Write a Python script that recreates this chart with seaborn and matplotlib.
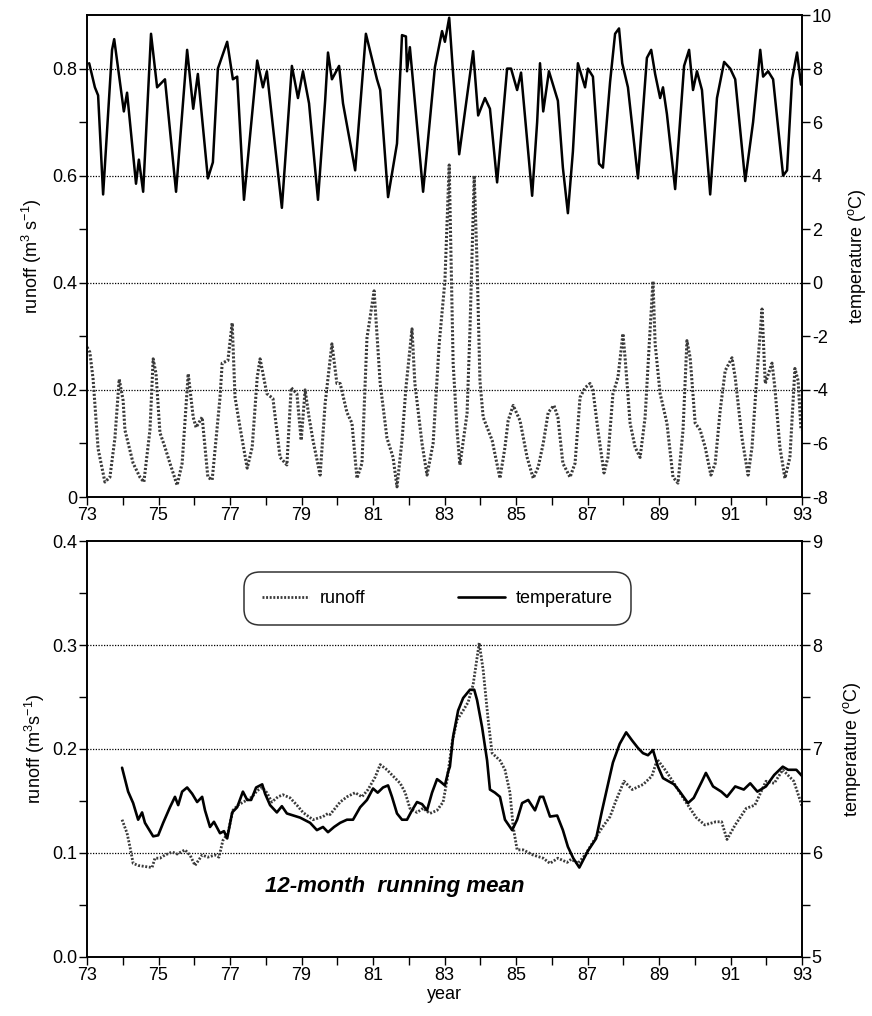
import pandas as pd
import matplotlib
matplotlib.use('Agg')
import matplotlib.pyplot as plt
import seaborn as sns

# ---------------- data ----------------
# upper panel: monthly runoff (m3/s) and air temperature (C)
top_runoff_year = [73.00, 73.08, 73.17, 73.31, 73.50, 73.64, 73.78, 73.90, 74.01, 74.06, 74.29, 74.48,
                   74.59, 74.76, 74.85, 74.93, 75.04, 75.18, 75.32, 75.52, 75.66, 75.83, 75.97, 76.05,
                   76.22, 76.38, 76.50, 76.72, 76.78, 76.94, 77.06, 77.14, 77.28, 77.48, 77.62, 77.76,
                   77.84, 78.03, 78.20, 78.40, 78.59, 78.71, 78.87, 78.99, 79.10, 79.21, 79.32, 79.52,
                   79.66, 79.85, 79.99, 80.08, 80.27, 80.41, 80.55, 80.69, 80.83, 81.03, 81.20, 81.39,
                   81.56, 81.67, 81.81, 81.92, 82.09, 82.17, 82.37, 82.51, 82.68, 82.85, 83.01, 83.13,
                   83.24, 83.35, 83.43, 83.63, 83.71, 83.83, 83.91, 83.99, 84.08, 84.33, 84.55, 84.69,
                   84.78, 84.92, 85.11, 85.31, 85.48, 85.62, 85.76, 85.90, 86.06, 86.17, 86.31, 86.51,
                   86.65, 86.79, 86.93, 87.07, 87.15, 87.29, 87.46, 87.57, 87.71, 87.85, 87.99, 88.05,
                   88.19, 88.33, 88.47, 88.61, 88.72, 88.83, 88.89, 89.03, 89.22, 89.39, 89.53, 89.67,
                   89.78, 89.87, 90.01, 90.15, 90.29, 90.45, 90.57, 90.71, 90.85, 91.04, 91.13, 91.32,
                   91.49, 91.60, 91.74, 91.88, 91.97, 92.16, 92.24, 92.38, 92.52, 92.66, 92.80, 92.89,
                   92.97]
top_runoff = [0.280, 0.270, 0.220, 0.090, 0.028, 0.037, 0.110, 0.220, 0.180, 0.125, 0.063, 0.037,
              0.028, 0.125, 0.258, 0.230, 0.120, 0.093, 0.063, 0.022, 0.063, 0.230, 0.149, 0.130,
              0.149, 0.037, 0.032, 0.186, 0.250, 0.255, 0.325, 0.186, 0.130, 0.054, 0.093, 0.223,
              0.258, 0.193, 0.184, 0.074, 0.060, 0.204, 0.193, 0.106, 0.200, 0.149, 0.106, 0.041,
              0.175, 0.286, 0.212, 0.212, 0.158, 0.138, 0.035, 0.063, 0.297, 0.385, 0.212, 0.110,
              0.074, 0.019, 0.106, 0.204, 0.314, 0.212, 0.100, 0.041, 0.100, 0.286, 0.403, 0.620,
              0.250, 0.125, 0.060, 0.156, 0.310, 0.600, 0.435, 0.217, 0.149, 0.106, 0.035, 0.093,
              0.143, 0.171, 0.143, 0.074, 0.035, 0.056, 0.100, 0.158, 0.171, 0.149, 0.063, 0.037,
              0.063, 0.186, 0.204, 0.212, 0.200, 0.125, 0.045, 0.074, 0.193, 0.223, 0.305, 0.260,
              0.138, 0.093, 0.074, 0.149, 0.279, 0.403, 0.286, 0.193, 0.138, 0.037, 0.026, 0.125,
              0.292, 0.260, 0.138, 0.125, 0.093, 0.041, 0.063, 0.162, 0.236, 0.260, 0.223, 0.110,
              0.041, 0.093, 0.230, 0.351, 0.212, 0.250, 0.204, 0.093, 0.035, 0.074, 0.240, 0.217,
              0.125]

top_temp_year = [73.06, 73.22, 73.31, 73.45, 73.70, 73.76, 74.03, 74.12, 74.37, 74.45, 74.57, 74.79,
                 74.96, 75.18, 75.49, 75.80, 75.97, 76.10, 76.38, 76.52, 76.66, 76.92, 77.08, 77.20,
                 77.39, 77.76, 77.92, 78.03, 78.45, 78.73, 78.90, 79.04, 79.21, 79.46, 79.66, 79.74,
                 79.85, 80.05, 80.16, 80.50, 80.80, 81.11, 81.20, 81.42, 81.67, 81.81, 81.92, 81.95,
                 82.03, 82.40, 82.73, 82.93, 83.01, 83.13, 83.24, 83.41, 83.80, 83.94, 84.13, 84.27,
                 84.47, 84.75, 84.86, 85.03, 85.14, 85.45, 85.59, 85.67, 85.76, 85.92, 86.17, 86.31,
                 86.45, 86.59, 86.73, 86.93, 87.01, 87.15, 87.32, 87.43, 87.63, 87.77, 87.88, 87.97,
                 88.13, 88.41, 88.66, 88.78, 88.89, 89.03, 89.11, 89.22, 89.45, 89.70, 89.84, 89.95,
                 90.06, 90.20, 90.43, 90.62, 90.82, 90.99, 91.13, 91.41, 91.63, 91.83, 91.91, 92.05,
                 92.19, 92.47, 92.58, 92.72, 92.86, 92.97]
top_temp = [8.2, 7.3, 7.0, 3.3, 8.7, 9.1, 6.4, 7.1, 3.7, 4.6, 3.4, 9.3,
            7.3, 7.6, 3.4, 8.7, 6.5, 7.8, 3.9, 4.5, 8.0, 9.0, 7.6, 7.7,
            3.1, 8.3, 7.3, 7.9, 2.8, 8.1, 6.9, 7.9, 6.7, 3.1, 6.8, 8.6,
            7.6, 8.1, 6.7, 4.2, 9.3, 7.6, 7.2, 3.2, 5.2, 9.25, 9.2, 7.9,
            8.8, 3.4, 8.05, 9.4, 9.0, 9.9, 7.8, 4.8, 8.65, 6.25, 6.9, 6.5,
            3.75, 8.0, 8.0, 7.2, 7.85, 3.25, 6.0, 8.2, 6.4, 7.9, 6.8, 4.3,
            2.6, 4.9, 8.2, 7.3, 8.0, 7.7, 4.45, 4.3, 7.5, 9.3, 9.5, 8.2,
            7.3, 3.9, 8.4, 8.7, 7.8, 6.9, 7.3, 6.3, 3.5, 8.1, 8.7, 7.2,
            7.9, 7.2, 3.3, 6.9, 8.25, 8.0, 7.6, 3.8, 6.0, 8.7, 7.7, 7.9,
            7.6, 4.0, 4.2, 7.6, 8.6, 7.4]

# lower panel: 12-month running means
mean_runoff_year = [73.98, 74.12, 74.20, 74.29, 74.43, 74.62, 74.82, 74.90, 75.04, 75.18, 75.38, 75.52,
                    75.74, 75.88, 76.02, 76.22, 76.38, 76.58, 76.69, 76.80, 76.94, 77.08, 77.22, 77.48,
                    77.62, 77.76, 77.90, 78.03, 78.17, 78.34, 78.48, 78.68, 78.87, 79.04, 79.32, 79.60,
                    79.74, 79.80, 80.08, 80.27, 80.50, 80.69, 80.86, 81.06, 81.20, 81.39, 81.53, 81.76,
                    81.90, 82.03, 82.23, 82.40, 82.59, 82.79, 82.96, 83.07, 83.21, 83.35, 83.52, 83.66,
                    83.80, 83.97, 84.08, 84.22, 84.33, 84.55, 84.69, 84.83, 84.92, 85.03, 85.20, 85.48,
                    85.76, 85.95, 86.17, 86.43, 86.54, 86.73, 86.93, 87.16, 87.40, 87.63, 87.79, 88.02,
                    88.25, 88.56, 88.80, 88.95, 89.19, 89.42, 89.73, 90.04, 90.28, 90.59, 90.75, 90.90,
                    91.13, 91.44, 91.68, 91.99, 92.22, 92.46, 92.77, 93.00]
mean_runoff = [0.132, 0.119, 0.106, 0.090, 0.088, 0.087, 0.086, 0.095, 0.095, 0.098, 0.101, 0.099,
               0.103, 0.098, 0.088, 0.098, 0.096, 0.098, 0.096, 0.112, 0.119, 0.141, 0.146, 0.151,
               0.154, 0.160, 0.163, 0.158, 0.149, 0.154, 0.156, 0.153, 0.146, 0.139, 0.132, 0.135,
               0.138, 0.137, 0.149, 0.154, 0.158, 0.154, 0.161, 0.173, 0.185, 0.180, 0.175, 0.167,
               0.158, 0.143, 0.139, 0.143, 0.138, 0.141, 0.149, 0.170, 0.206, 0.228, 0.237, 0.245,
               0.262, 0.302, 0.276, 0.228, 0.196, 0.189, 0.180, 0.158, 0.125, 0.103, 0.103, 0.098,
               0.095, 0.090, 0.095, 0.091, 0.094, 0.090, 0.098, 0.111, 0.124, 0.135, 0.150, 0.169,
               0.161, 0.166, 0.174, 0.190, 0.179, 0.167, 0.150, 0.134, 0.127, 0.130, 0.130, 0.113,
               0.127, 0.143, 0.146, 0.169, 0.167, 0.180, 0.169, 0.145]

mean_temp_year = [73.98, 74.15, 74.29, 74.43, 74.54, 74.62, 74.85, 74.99, 75.13, 75.32, 75.46, 75.55,
                  75.66, 75.80, 75.94, 76.08, 76.22, 76.30, 76.44, 76.55, 76.72, 76.83, 76.92, 77.06,
                  77.20, 77.36, 77.48, 77.59, 77.73, 77.90, 77.98, 78.12, 78.31, 78.45, 78.59, 78.96,
                  79.24, 79.43, 79.60, 79.74, 79.91, 80.08, 80.27, 80.44, 80.64, 80.83, 81.00, 81.13,
                  81.28, 81.42, 81.53, 81.67, 81.81, 81.95, 82.09, 82.23, 82.37, 82.51, 82.65, 82.79,
                  82.87, 83.01, 83.10, 83.15, 83.24, 83.38, 83.52, 83.71, 83.83, 83.91, 84.05, 84.19,
                  84.27, 84.41, 84.55, 84.69, 84.89, 85.03, 85.17, 85.34, 85.53, 85.67, 85.76, 85.95,
                  86.15, 86.31, 86.45, 86.60, 86.77, 87.01, 87.24, 87.40, 87.63, 87.71, 87.90, 88.08,
                  88.25, 88.41, 88.55, 88.69, 88.83, 88.97, 89.11, 89.42, 89.58, 89.81, 89.97, 90.20,
                  90.31, 90.51, 90.74, 90.90, 91.13, 91.37, 91.55, 91.75, 91.99, 92.22, 92.46, 92.61,
                  92.84, 93.00]
mean_temp = [6.82, 6.59, 6.48, 6.32, 6.39, 6.29, 6.16, 6.17, 6.29, 6.44, 6.54, 6.46,
             6.59, 6.63, 6.57, 6.49, 6.54, 6.41, 6.25, 6.30, 6.19, 6.21, 6.14, 6.39,
             6.44, 6.59, 6.51, 6.51, 6.63, 6.66, 6.57, 6.46, 6.39, 6.45, 6.38, 6.34,
             6.29, 6.22, 6.25, 6.20, 6.25, 6.29, 6.32, 6.32, 6.44, 6.51, 6.62, 6.58,
             6.63, 6.65, 6.54, 6.38, 6.32, 6.32, 6.41, 6.49, 6.47, 6.41, 6.58, 6.71,
             6.69, 6.65, 6.78, 6.83, 7.12, 7.37, 7.49, 7.57, 7.57, 7.47, 7.21, 6.89,
             6.61, 6.58, 6.54, 6.32, 6.22, 6.32, 6.48, 6.51, 6.41, 6.54, 6.54, 6.35,
             6.36, 6.22, 6.06, 5.95, 5.86, 6.02, 6.14, 6.40, 6.75, 6.87, 7.05, 7.16,
             7.08, 7.01, 6.96, 6.94, 6.99, 6.83, 6.72, 6.66, 6.59, 6.48, 6.53, 6.69,
             6.77, 6.64, 6.59, 6.54, 6.64, 6.61, 6.67, 6.59, 6.64, 6.75, 6.83, 6.80,
             6.80, 6.74]

year_ticks = list(range(73, 94))
year_labels = [str(y) if y % 2 == 1 else '' for y in year_ticks]

top_left_ticks = [0, 0.1, 0.2, 0.3, 0.4, 0.5, 0.6, 0.7, 0.8]
top_left_labels = ['0', '', '0.2', '', '0.4', '', '0.6', '', '0.8']
top_right_ticks = [-8, -6, -4, -2, 0, 2, 4, 6, 8, 10]
top_grid = [0.2, 0.4, 0.6, 0.8]

bot_left_ticks = [0, 0.05, 0.1, 0.15, 0.2, 0.25, 0.3, 0.35, 0.4]
bot_left_labels = ['0.0', '', '0.1', '', '0.2', '', '0.3', '', '0.4']
bot_right_ticks = [5, 5.5, 6, 6.5, 7, 7.5, 8, 8.5, 9]
bot_right_labels = ['5', '', '6', '', '7', '', '8', '', '9']
bot_grid = [0.1, 0.2, 0.3]

# ---------------- style ----------------
sns.set_style("ticks")
plt.rcParams['font.family'] = ['Liberation Sans', 'DejaVu Sans']
plt.rcParams['mathtext.fontset'] = 'custom'
plt.rcParams['mathtext.rm'] = 'Liberation Sans'
plt.rcParams['mathtext.it'] = 'Liberation Sans:italic'
plt.rcParams['axes.linewidth'] = 1.2
for key in ['text.color', 'axes.labelcolor', 'xtick.color', 'ytick.color', 'axes.edgecolor']:
    plt.rcParams[key] = 'black'

DOT = (0, (0.7, 0.6))
GRID = (0, (1.0, 1.2))

fig = plt.figure(figsize=(8.72, 10.16), dpi=100)
ax1 = fig.add_axes([0.0998, 0.5108, 0.8200, 0.4744])
ax2 = fig.add_axes([0.0998, 0.0581, 0.8200, 0.4094])


def style_axis(ax, left_ticks, left_labels, grid):
    ax.set_xlim(73, 93)
    ax.set_xticks(year_ticks)
    ax.set_xticklabels(year_labels, fontsize=13)
    ax.set_yticks(left_ticks)
    ax.set_yticklabels(left_labels, fontsize=13)
    ax.tick_params(direction='out', length=6, width=1.0, pad=1, color='black')
    for g in grid:
        ax.axhline(g, color='black', lw=0.9, ls=GRID, zorder=0)
    for s in ax.spines.values():
        s.set_visible(True)
        s.set_color('black')


# ---------------- top panel ----------------
df_top_r = pd.DataFrame({'year': top_runoff_year, 'runoff': top_runoff})
df_top_t = pd.DataFrame({'year': top_temp_year, 'temp': top_temp})

sns.lineplot(data=df_top_r, x='year', y='runoff', ax=ax1, color='#3a3a3a',
             lw=2.2, ls=DOT, estimator=None, sort=False)
ax1.set_ylim(0, 0.9)
style_axis(ax1, top_left_ticks, top_left_labels, top_grid)
ax1.set_xlabel('')
ax1.set_ylabel('runoff (m$^3$ s$^{-1}$)', fontsize=13, labelpad=6)

ax1r = ax1.twinx()
sns.lineplot(data=df_top_t, x='year', y='temp', ax=ax1r, color='black',
             lw=1.8, estimator=None, sort=False)
ax1r.set_ylim(-8, 10)
ax1r.set_yticks(top_right_ticks)
ax1r.set_yticklabels([str(t) for t in top_right_ticks], fontsize=13)
ax1r.tick_params(direction='out', length=6, width=1.0, pad=1)
ax1r.set_ylabel('temperature ($^{\\rm o}$C)', fontsize=13, labelpad=10)
ax1r.set_xlim(73, 93)
ax1r.set_xlabel('')

# ---------------- bottom panel ----------------
df_bot_r = pd.DataFrame({'year': mean_runoff_year, 'runoff': mean_runoff})
df_bot_t = pd.DataFrame({'year': mean_temp_year, 'temp': mean_temp})

sns.lineplot(data=df_bot_r, x='year', y='runoff', ax=ax2, color='#3a3a3a',
             lw=2.0, ls=DOT, estimator=None, sort=False, label='runoff')
ax2.set_ylim(0, 0.4)
style_axis(ax2, bot_left_ticks, bot_left_labels, bot_grid)
ax2.set_xlabel('year', fontsize=13, labelpad=2)
ax2.set_ylabel('runoff (m$^3$s$^{-1}$)', fontsize=13, labelpad=4)

ax2r = ax2.twinx()
sns.lineplot(data=df_bot_t, x='year', y='temp', ax=ax2r, color='black',
             lw=1.9, estimator=None, sort=False, label='temperature')
ax2r.set_ylim(5, 9)
ax2r.set_yticks(bot_right_ticks)
ax2r.set_yticklabels(bot_right_labels, fontsize=13)
ax2r.tick_params(direction='out', length=6, width=1.0, pad=1)
ax2r.set_ylabel('temperature ($^{\\rm o}$C)', fontsize=13, labelpad=14)
ax2r.set_xlim(73, 93)
ax2r.set_xlabel('')

# one legend box with both series
h1, l1 = ax2.get_legend_handles_labels()
h2, l2 = ax2r.get_legend_handles_labels()
ax2.get_legend().remove()
ax2r.get_legend().remove()
leg = ax2r.legend(h1 + h2, l1 + l2, ncol=2, loc='upper left',
                  bbox_to_anchor=(0.207, 0.947, 0.566, 0), mode='expand',
                  fontsize=13, frameon=True, fancybox=True, handlelength=2.6,
                  borderpad=1.0, columnspacing=3.0, handletextpad=0.6)
leg.get_frame().set_edgecolor('black')
leg.get_frame().set_linewidth(1.1)
leg.get_frame().set_boxstyle('round', pad=0, rounding_size=0.9)

ax2.text(0.43, 0.17, '12-month  running mean', transform=ax2.transAxes,
         ha='center', va='center', fontsize=16, fontweight='bold', fontstyle='italic')

fig.savefig('out.png', dpi=100)
